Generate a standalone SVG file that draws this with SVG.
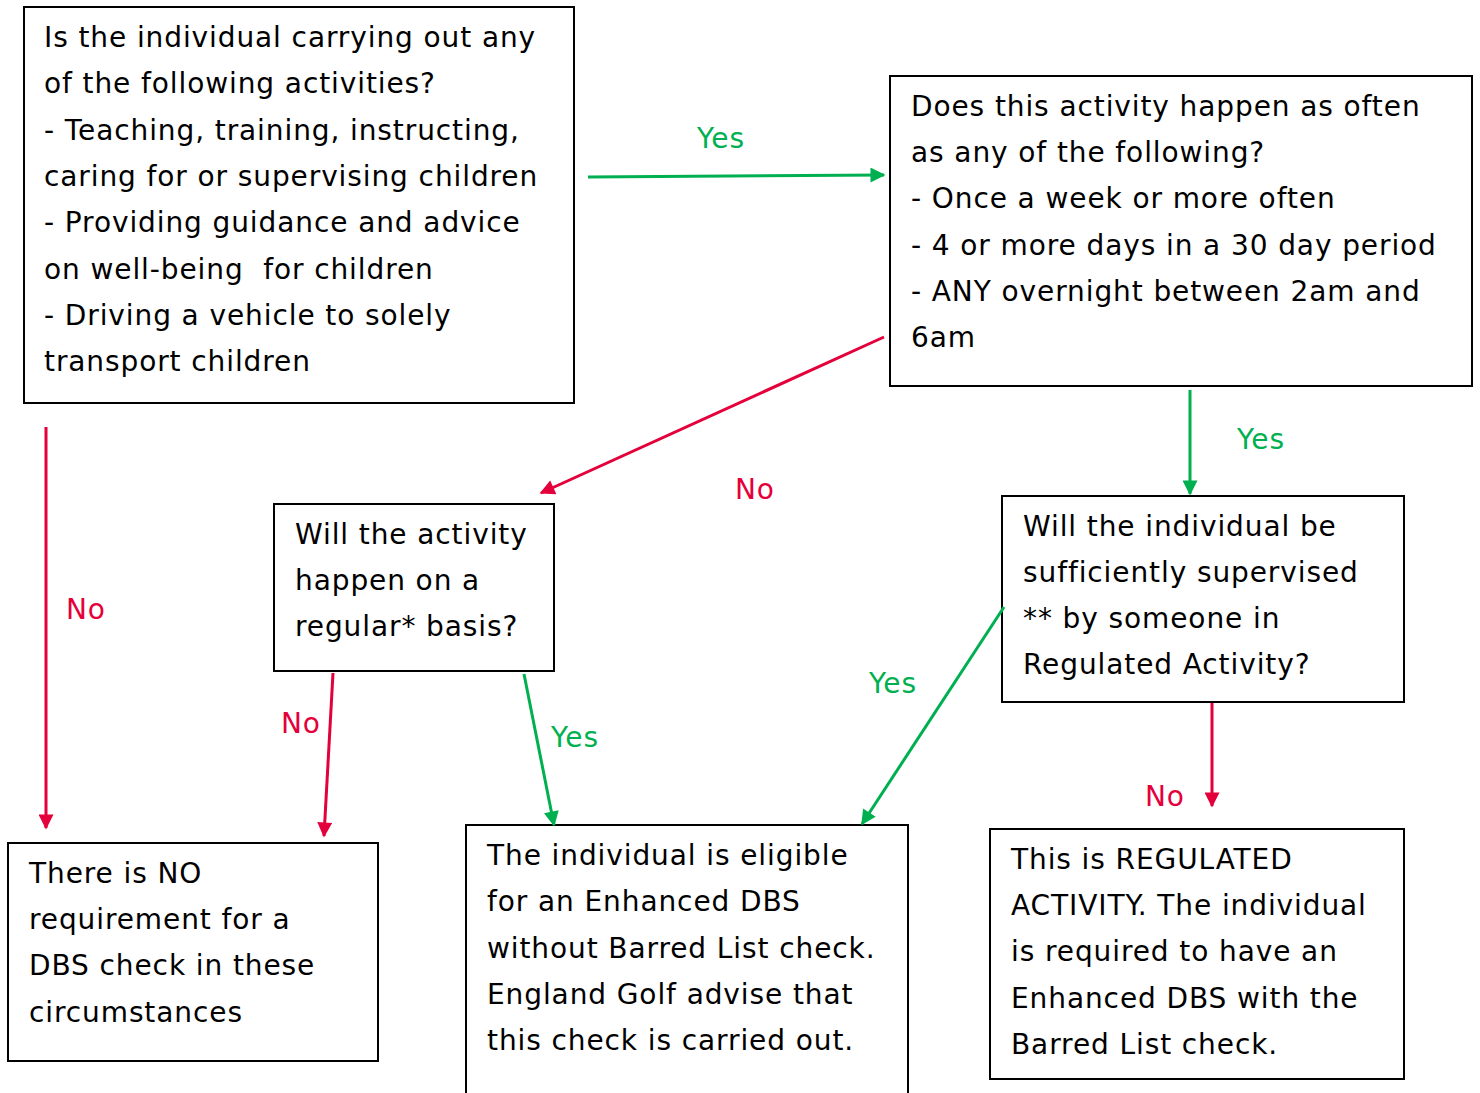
<svg xmlns="http://www.w3.org/2000/svg" width="1480" height="1093" viewBox="0 0 1480 1093">
<style>
.box{fill:#fff;stroke:#000;stroke-width:2}
.t,.g,.r{font-family:"DejaVu Sans",Verdana,sans-serif;font-size:28px;letter-spacing:0.9px}
.t{fill:#000}
.g{fill:#00b050}
.r{fill:#e4003a}
.lg{stroke:#00b050;stroke-width:3;fill:none}
.lr{stroke:#e4003a;stroke-width:3;fill:none}
</style>
<defs>
<marker id="ag" viewBox="0 0 10 10" refX="9" refY="5" markerWidth="5.5" markerHeight="5" orient="auto" markerUnits="strokeWidth"><path d="M0,0 L10,5 L0,10 z" fill="#00b050"/></marker>
<marker id="ar" viewBox="0 0 10 10" refX="9" refY="5" markerWidth="5.5" markerHeight="5" orient="auto" markerUnits="strokeWidth"><path d="M0,0 L10,5 L0,10 z" fill="#e4003a"/></marker>
</defs>
<rect width="1480" height="1093" fill="#fff"/>
<g id="n1"><rect class="box" x="24" y="7" width="550" height="396"/>
<text class="t" x="44"><tspan x="44" y="47">Is the individual carrying out any</tspan><tspan x="44" y="93">of the following activities?</tspan><tspan x="44" y="140">- Teaching, training, instructing,</tspan><tspan x="44" y="186">caring for or supervising children</tspan><tspan x="44" y="232">- Providing guidance and advice</tspan><tspan x="44" y="279" xml:space="preserve">on well-being  for children</tspan><tspan x="44" y="325">- Driving a vehicle to solely</tspan><tspan x="44" y="371">transport children</tspan></text></g>
<g id="n2"><rect class="box" x="890" y="76" width="582" height="310"/>
<text class="t"><tspan x="911" y="116">Does this activity happen as often</tspan><tspan x="911" y="162">as any of the following?</tspan><tspan x="911" y="208">- Once a week or more often</tspan><tspan x="911" y="255">- 4 or more days in a 30 day period</tspan><tspan x="911" y="301">- ANY overnight between 2am and</tspan><tspan x="911" y="347">6am</tspan></text></g>
<g id="n3"><rect class="box" x="274" y="504" width="280" height="167"/>
<text class="t"><tspan x="295" y="544">Will the activity</tspan><tspan x="295" y="590">happen on a</tspan><tspan x="295" y="636">regular* basis?</tspan></text></g>
<g id="n4"><rect class="box" x="1002" y="496" width="402" height="206"/>
<text class="t"><tspan x="1023" y="536">Will the individual be</tspan><tspan x="1023" y="582">sufficiently supervised</tspan><tspan x="1023" y="628">** by someone in</tspan><tspan x="1023" y="674">Regulated Activity?</tspan></text></g>
<g id="n5"><rect class="box" x="8" y="843" width="370" height="218"/>
<text class="t"><tspan x="29" y="883">There is NO</tspan><tspan x="29" y="929">requirement for a</tspan><tspan x="29" y="975">DBS check in these</tspan><tspan x="29" y="1022">circumstances</tspan></text></g>
<g id="n6"><rect class="box" x="466" y="825" width="442" height="290"/>
<text class="t"><tspan x="487" y="865">The individual is eligible</tspan><tspan x="487" y="911">for an Enhanced DBS</tspan><tspan x="487" y="958">without Barred List check.</tspan><tspan x="487" y="1004">England Golf advise that</tspan><tspan x="487" y="1050">this check is carried out.</tspan></text></g>
<g id="n7"><rect class="box" x="990" y="829" width="414" height="250"/>
<text class="t"><tspan x="1011" y="869">This is REGULATED</tspan><tspan x="1011" y="915">ACTIVITY. The individual</tspan><tspan x="1011" y="961">is required to have an</tspan><tspan x="1011" y="1008">Enhanced DBS with the</tspan><tspan x="1011" y="1054">Barred List check.</tspan></text></g>
<g id="connectors">
<line class="lg" x1="588" y1="177" x2="884" y2="175" marker-end="url(#ag)"/>
<line class="lr" x1="884" y1="337" x2="541" y2="493" marker-end="url(#ar)"/>
<line class="lr" x1="46" y1="427" x2="46" y2="828" marker-end="url(#ar)"/>
<line class="lg" x1="1190" y1="390" x2="1190" y2="494" marker-end="url(#ag)"/>
<line class="lr" x1="333" y1="673" x2="324" y2="836" marker-end="url(#ar)"/>
<line class="lg" x1="524" y1="674" x2="554" y2="825" marker-end="url(#ag)"/>
<line class="lg" x1="1004" y1="607" x2="862" y2="824" marker-end="url(#ag)"/>
<line class="lr" x1="1212" y1="703" x2="1212" y2="806" marker-end="url(#ar)"/>
<text class="g" x="697" y="148">Yes</text>
<text class="r" x="735" y="499">No</text>
<text class="r" x="66" y="619">No</text>
<text class="g" x="1237" y="449">Yes</text>
<text class="r" x="281" y="733">No</text>
<text class="g" x="551" y="747">Yes</text>
<text class="g" x="869" y="693">Yes</text>
<text class="r" x="1145" y="806">No</text>
</g>
</svg>
